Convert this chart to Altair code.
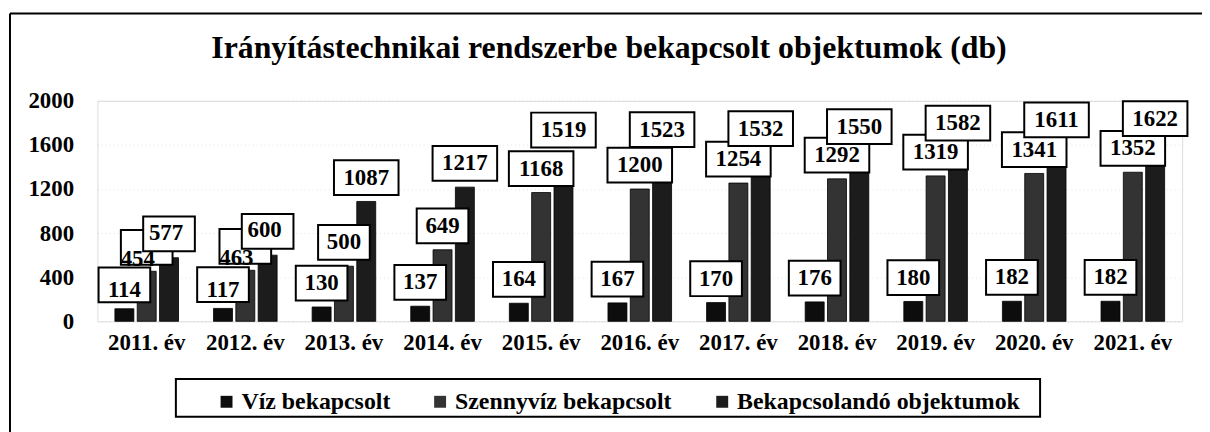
import altair as alt
import pandas as pd

years = ["2011. év", "2012. év", "2013. év", "2014. év", "2015. év", "2016. év",
         "2017. év", "2018. év", "2019. év", "2020. év", "2021. év"]
series = ["Víz bekapcsolt", "Szennyvíz bekapcsolt", "Bekapcsolandó objektumok"]
viz = [114, 117, 130, 137, 164, 167, 170, 176, 180, 182, 182]
szennyviz = [454, 463, 500, 649, 1168, 1200, 1254, 1292, 1319, 1341, 1352]
bekapcsolando = [577, 600, 1087, 1217, 1519, 1523, 1532, 1550, 1582, 1611, 1622]
y_ticks = [0, 400, 800, 1200, 1600, 2000]
colors = ["#0d0d0d", "#333333", "#1c1c1c"]
title_text = "Irányítástechnikai rendszerbe bekapcsolt objektumok (db)"

# a year is "tight" when the two upper series are close, so their labels are staggered
tight = [(b - s) < 200 for s, b in zip(szennyviz, bekapcsolando)]

rows = []
for s, vals in zip(series, [viz, szennyviz, bekapcsolando]):
    for y, v, t in zip(years, vals, tight):
        rows.append({"ev": y, "sorozat": s, "db": v, "jegy": str(len(str(v))), "szoros": t})
df = pd.DataFrame(rows)

FONT = "Liberation Serif"
FS = 23

x_enc = alt.X("ev:N", sort=years,
              scale=alt.Scale(paddingInner=0.355, paddingOuter=0.1775),
              axis=alt.Axis(title=None, labelAngle=0, labelFont=FONT, labelFontSize=FS,
                            labelFontWeight="bold", labelColor="black", labelPadding=10,
                            domain=False, ticks=False))
y_enc = alt.Y("db:Q", scale=alt.Scale(domain=[0, 2000], nice=False),
              axis=alt.Axis(title=None, values=y_ticks, format="d", labelFont=FONT,
                            labelFontSize=FS, labelFontWeight="bold", labelColor="black",
                            labelPadding=24, domain=False, ticks=False, grid=True,
                            gridColor="#aaaaaa", gridDash=[1, 3], gridOpacity=0.3,
                            gridWidth=1))
xoff = alt.XOffset("sorozat:N", sort=series, scale=alt.Scale(paddingInner=0.15))

bars = alt.Chart(df).mark_bar(stroke="black", strokeWidth=0.8).encode(
    x=x_enc, y=y_enc, xOffset=xoff,
    color=alt.Color("sorozat:N", sort=series,
                    scale=alt.Scale(domain=series, range=colors),
                    legend=alt.Legend(title=None, orient="none", legendX=118, legendY=291,
                                      direction="horizontal", labelFont=FONT,
                                      labelFontSize=24, labelFontWeight="bold",
                                      labelColor="black", labelLimit=500,
                                      symbolType="square", symbolSize=144,
                                      symbolStrokeWidth=0, symbolOpacity=1,
                                      columnPadding=38, labelOffset=3)),
)

R = 17.5  # sqrt(size)/2 for size 1225


def box_path(half_w, dx, dy, half_h=17.5):
    x0, x1 = (dx - half_w) / R, (dx + half_w) / R
    y0, y1 = (dy - half_h) / R, (dy + half_h) / R
    return f"M{x0:.3f},{y0:.3f}H{x1:.3f}V{y1:.3f}H{x0:.3f}Z"


# label placement per series: (dx, dy) normal, (dx, dy) when tight
placement = {
    series[0]: ((0, -24), (0, -19)),
    series[1]: ((0, -24), (-9, -12)),
    series[2]: ((0, -24), (-3, -25)),
}

layers = [bars]
for s in series:
    for flag in [False, True]:
        dx, dy = placement[s][1 if flag else 0]
        base = alt.Chart(df).transform_filter(
            (alt.datum.sorozat == s) & (alt.datum.szoros == flag))
        box = base.mark_point(filled=True, fill="white", stroke="black", strokeWidth=2,
                              opacity=1, size=1225).encode(
            x=alt.X("ev:N", sort=years), y=alt.Y("db:Q"), xOffset=xoff,
            shape=alt.Shape("jegy:N",
                            scale=alt.Scale(domain=["3", "4"],
                                            range=[box_path(26, dx, dy), box_path(32.5, dx, dy)]),
                            legend=None),
        )
        txt = base.mark_text(dx=dx, dy=dy, font=FONT, fontSize=FS, fontWeight="bold",
                             color="black", baseline="middle", align="center").encode(
            x=alt.X("ev:N", sort=years), y=alt.Y("db:Q"), xOffset=xoff,
            text=alt.Text("db:Q", format="d"),
        )
        layers += [box, txt]

one = pd.DataFrame({"k": [0]})
legend_frame = alt.Chart(one).mark_rect(fillOpacity=0, stroke="black", strokeWidth=2).encode(
    x=alt.value(79), x2=alt.value(949), y=alt.value(280), y2=alt.value(318))
frame_left = alt.Chart(one).mark_rule(color="black", strokeWidth=2).encode(
    x=alt.value(-88), y=alt.value(-88), y2=alt.value(345))
frame_top = alt.Chart(one).mark_rule(color="black", strokeWidth=2).encode(
    x=alt.value(-88), x2=alt.value(1130), y=alt.value(-88))
layers += [legend_frame, frame_left, frame_top]

chart = alt.layer(*layers).properties(
    width=1092, height=222,
    autosize=alt.AutoSizeParams(type="none"),
    padding={"left": 90, "top": 92, "right": 20, "bottom": 110},
    title=alt.TitleParams(title_text, font=FONT, fontSize=32, fontWeight="bold",
                          color="black", anchor="middle", frame="group",
                          baseline="alphabetic", offset=-78, dx=-31),
).configure_view(stroke=None).configure(background="white")

chart.save("out.html", embed_options={"renderer": "svg", "actions": False})
